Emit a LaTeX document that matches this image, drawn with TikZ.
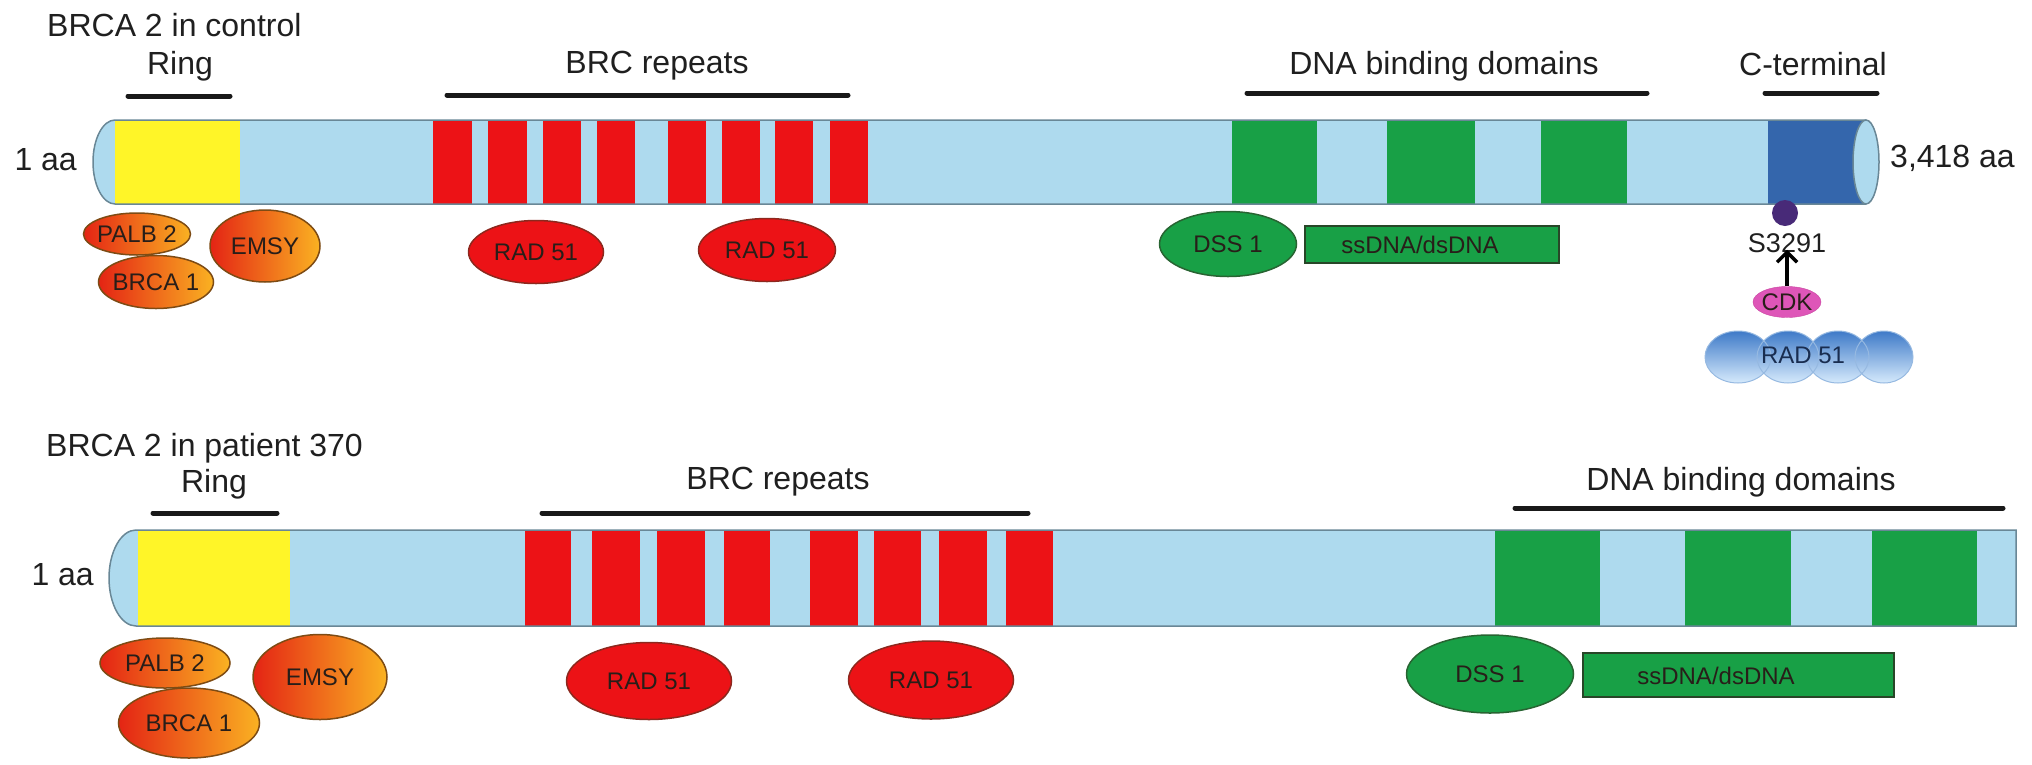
\documentclass[tikz,border=0pt]{standalone}
\usepackage{fontspec}
\setmainfont{Liberation Sans}
\usetikzlibrary{shapes.geometric,arrows.meta}
\definecolor{lb}{RGB}{174,218,238}
\definecolor{barout}{RGB}{105,135,150}
\definecolor{yel}{RGB}{255,245,40}
\definecolor{rd}{RGB}{236,18,22}
\definecolor{gr}{RGB}{24,160,70}
\definecolor{db}{RGB}{52,102,172}
\definecolor{orL}{RGB}{228,36,20}
\definecolor{orR}{RGB}{250,178,34}
\definecolor{orB}{RGB}{125,75,20}
\definecolor{inkt}{RGB}{40,30,25}
\definecolor{pdot}{RGB}{72,42,120}
\definecolor{cdkc}{RGB}{222,86,184}
\definecolor{cldT}{RGB}{62,122,200}
\definecolor{cldB}{RGB}{214,234,252}
\definecolor{cldD}{RGB}{150,185,225}
\tikzset{
  lab/.style={font=\fontsize{32}{38}\selectfont, inner sep=0pt, text=black!88},
  inl/.style={font=\fontsize{24}{28}\selectfont, inner sep=0pt, text=inkt},
  domline/.style={line width=5pt, line cap=round, black!90},
  barline/.style={draw=barout, line width=1.5pt},
  orng/.style={ellipse, draw=orB, line width=1.5pt, left color=orL, right color=orR, inner sep=0pt},
  redov/.style={ellipse, draw={rgb,255:red,140;green,40;blue,30}, line width=1.5pt, fill=rd, inner sep=0pt},
  grnov/.style={ellipse, draw={rgb,255:red,40;green,100;blue,50}, line width=1.5pt, fill=gr, inner sep=0pt},
  grnbox/.style={rectangle, draw={rgb,255:red,40;green,70;blue,40}, line width=1.5pt, fill=gr, inner sep=0pt},
  cloudfill/.style={top color=cldT, bottom color=cldB},
  cloudedge/.style={draw=cldD, line width=1pt},
}
\begin{document}
\begin{tikzpicture}[x=1pt,y=-1pt]
\useasboundingbox (0,0) rectangle (2032,764);
% ================= TOP: control =================
\node[lab, anchor=west] (t1) at (47,25) {BRCA 2 in control};
% bar body
\fill[lb] (1866,120) -- (115,120) arc[start angle=90,end angle=270,x radius=22pt,y radius=42pt] -- (1866,204) -- cycle;
\fill[yel] (115,120) rectangle (240,204);
\foreach \a/\b in {433/472,488/527,543/581,597/635,668/706,722/760,775/813,830/868}
  \fill[rd] (\a,120) rectangle (\b,204);
\foreach \a/\b in {1232/1317,1387/1475,1541/1627}
  \fill[gr] (\a,120) rectangle (\b,204);
\fill[db] (1768,120) rectangle (1866,204);
\draw[barline] (1866,120) -- (115,120) arc[start angle=90,end angle=270,x radius=22pt,y radius=42pt] -- (1866,204);
\draw[barline, fill=lb] (1866,162) ellipse [x radius=13pt, y radius=42pt];
% domain bars and labels
\draw[domline] (128,96) -- (230,96);
\draw[domline] (447,95) -- (848,95);
\draw[domline] (1247,93) -- (1647,93);
\draw[domline] (1765,93) -- (1877,93);
\node[lab] (ring1) at (180,66) {Ring};
\node[lab] (brc1) at (657,66) {BRC repeats};
\node[lab] (dna1) at (1444,66) {DNA binding domains};
\node[lab] (ct1) at (1813,64) {C-terminal};
\node[lab, anchor=east] (aa1) at (77,160) {1 aa};
\node[lab, anchor=west] (aa2) at (1890,158) {3,418 aa};
% binders
\node[orng, minimum width=107pt, minimum height=42pt] (palb1) at (137,234) {};
\node[inl] at (palb1) {PALB 2};
\node[orng, minimum width=115pt, minimum height=53pt] (brca1a) at (156,282) {};
\node[inl] at (brca1a) {BRCA 1};
\node[orng, minimum width=110pt, minimum height=72pt] (emsy1) at (265,246) {};
\node[inl] at (emsy1) {EMSY};
\node[redov, minimum width=135pt, minimum height=63pt] (rad1a) at (536,252) {};
\node[inl] at (rad1a) {RAD 51};
\node[redov, minimum width=137pt, minimum height=63pt] (rad1b) at (767,250) {};
\node[inl] at (rad1b) {RAD 51};
\node[grnov, minimum width=137pt, minimum height=65pt] (dss1a) at (1228,244) {};
\node[inl] at (dss1a) {DSS 1};
\node[grnbox, minimum width=254pt, minimum height=37pt] (ss1) at (1432,244.5) {};
\node[inl] at (1420,245) {ssDNA/dsDNA};
% C-terminal phosphorylation
\node[circle, fill=pdot, minimum size=26pt, inner sep=0pt] (dot) at (1785,213) {};
\node[inl, font=\fontsize{27}{30}\selectfont, text=black!88] (s3291) at (1787,243) {S3291};
\node[ellipse, fill=cdkc, draw={rgb,255:red,200;green,70;blue,160}, minimum width=68pt, minimum height=31pt, inner sep=0pt] (cdk) at (1787,302) {};
\node[inl] at (cdk) {CDK};
\draw[-{Straight Barb[length=10pt,width=20pt]}, line width=3.5pt] (cdk.north) -- ([yshift=3pt]s3291.south);
\path[cloudfill] (1738,357) ellipse [x radius=33pt, y radius=26pt]
  (1788,357) ellipse [x radius=31pt, y radius=26pt]
  (1838,357) ellipse [x radius=31pt, y radius=26pt]
  (1884,357) ellipse [x radius=29pt, y radius=26pt];
\path[cloudedge] (1738,357) ellipse [x radius=33pt, y radius=26pt]
  (1788,357) ellipse [x radius=31pt, y radius=26pt]
  (1838,357) ellipse [x radius=31pt, y radius=26pt]
  (1884,357) ellipse [x radius=29pt, y radius=26pt];
\node[inl, text={rgb,255:red,25;green,45;blue,80}] (radc) at (1803,355) {RAD 51};
% ================= BOTTOM: patient 370 =================
\node[lab, anchor=west] (t2) at (46,448) {BRCA 2 in patient 370};
\fill[lb] (2016,530) -- (136,530) arc[start angle=90,end angle=270,x radius=27pt,y radius=48pt] -- (2016,626) -- cycle;
\fill[yel] (138,530) rectangle (290,626);
\foreach \a/\b in {525/571,592/640,657/705,724/770,810/858,874/921,939/987,1006/1053}
  \fill[rd] (\a,530) rectangle (\b,626);
\foreach \a/\b in {1495/1600,1685/1791,1872/1977}
  \fill[gr] (\a,530) rectangle (\b,626);
\draw[barline] (2016,530) -- (136,530) arc[start angle=90,end angle=270,x radius=27pt,y radius=48pt] -- (2016,626) -- cycle;
\draw[domline] (153,513) -- (277,513);
\draw[domline] (542,513) -- (1028,513);
\draw[domline] (1515,508) -- (2003,508);
\node[lab] (ring2) at (214,484) {Ring};
\node[lab] (brc2) at (778,482) {BRC repeats};
\node[lab] (dna2) at (1741,482) {DNA binding domains};
\node[lab, anchor=east] (aa3) at (94,575) {1 aa};
\node[orng, minimum width=130pt, minimum height=50pt] (palb2) at (165,663) {};
\node[inl] at (palb2) {PALB 2};
\node[orng, minimum width=141pt, minimum height=70pt] (brca1b) at (189,723) {};
\node[inl] at (brca1b) {BRCA 1};
\node[orng, minimum width=134pt, minimum height=85pt] (emsy2) at (320,677) {};
\node[inl] at (emsy2) {EMSY};
\node[redov, minimum width=165pt, minimum height=77pt] (rad2a) at (649,681) {};
\node[inl] at (rad2a) {RAD 51};
\node[redov, minimum width=165pt, minimum height=78pt] (rad2b) at (931,680) {};
\node[inl] at (rad2b) {RAD 51};
\node[grnov, minimum width=167pt, minimum height=78pt] (dss2) at (1490,674) {};
\node[inl] at (dss2) {DSS 1};
\node[grnbox, minimum width=311pt, minimum height=44pt] (ss2) at (1738.5,675) {};
\node[inl] at (1716,676) {ssDNA/dsDNA};
\end{tikzpicture}
\end{document}
